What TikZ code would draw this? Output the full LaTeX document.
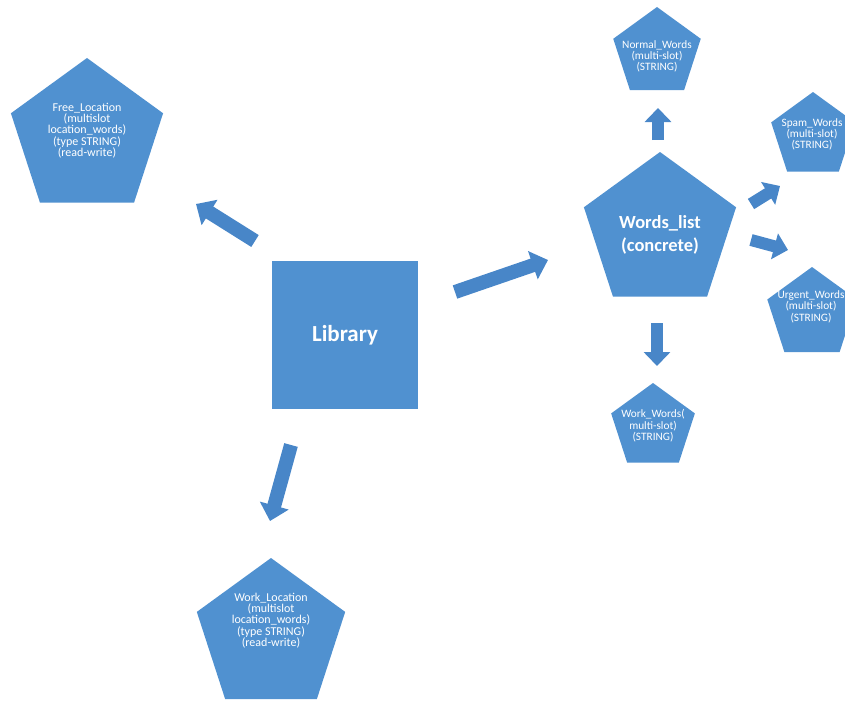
\documentclass[tikz,border=0pt]{standalone}
\usepackage{fontspec}
\setmainfont{Carlito}
\usetikzlibrary{shapes.geometric,arrows.meta}
\definecolor{shapeblue}{RGB}{80,145,208}
\definecolor{arrowblue}{RGB}{72,134,200}
% #1 x offset, #2 y offset (up), #3 lines separated by \\
\newcommand\ptext[3]{\makebox[0pt][l]{\hspace*{#1}\raisebox{#2}{\makebox[0pt]{$\vcenter{\let\\\cr\lineskiplimit=-100pt\lineskip=0pt\halign{\hfil##\hfil\cr#3\crcr}}$}}}}
\tikzset{
  pent/.style={regular polygon, regular polygon sides=5, fill=shapeblue,
    draw=none, inner sep=0pt, text=white, text height=0pt, text depth=0pt},
  bigpent/.style={pent, font=\fontsize{12}{11.3}\selectfont},
  smallpent/.style={pent, font=\fontsize{11.3}{11.2}\selectfont},
  blockarrow/.style={draw=arrowblue, line width=14pt,
    -{Triangle[width=29pt,length=16pt]}},
  smallarrow/.style={draw=arrowblue, line width=12pt,
    -{Triangle[width=26pt,length=14pt]}},
}
\begin{document}
\begin{tikzpicture}[x=1pt,y=-1pt]
\useasboundingbox (0,0) rectangle (845,701);
% nodes
\node[fill=shapeblue, minimum width=146pt, minimum height=148pt, inner sep=0pt,
      text=white, font=\bfseries\fontsize{23}{27}\selectfont] (lib) at (345,335) {Library};
\node[bigpent, minimum size=160pt] (free) at (87,138)
  {\ptext{0pt}{4.5pt}{Free\_Location\\(multislot\\location\_words)\\(type STRING)\\(read-write)}};
\node[bigpent, minimum size=156pt] (workloc) at (271,636)
  {\ptext{0pt}{12.5pt}{Work\_Location\\(multislot\\location\_words)\\(type STRING)\\(read-write)}};
\node[pent, minimum size=160pt, font=\bfseries\fontsize{18.5}{23}\selectfont] (wl) at (660,232)
  {\ptext{0pt}{-7pt}{Words\_list\\(concrete)}};
\node[smallpent, minimum size=92pt] (normal) at (657,53)
  {\ptext{0pt}{-6pt}{Normal\_Words\\(multi-slot)\\(STRING)}};
\node[smallpent, minimum size=88pt] (spam) at (813,136)
  {\ptext{-1pt}{-1pt}{Spam\_Words\\(multi-slot)\\(STRING)}};
\node[smallpent, minimum size=94pt] (urgent) at (812,314)
  {\ptext{-1pt}{4.5pt}{Urgent\_Words\\(multi-slot)\\(STRING)}};
\node[smallpent, minimum size=88pt] (workw) at (653,427)
  {\ptext{0pt}{-1.5pt}{Work\_Words(\\multi-slot)\\(STRING)}};
% arrow end points
\coordinate (a1s) at (255,241); \coordinate (a1e) at (196,204);
\coordinate (a2s) at (455,292); \coordinate (a2e) at (548,260);
\coordinate (a3s) at (291,445); \coordinate (a3e) at (270,521);
\coordinate (a4s) at (658,140); \coordinate (a4e) at (658,108);
\coordinate (a5s) at (751,204); \coordinate (a5e) at (780,186);
\coordinate (a6s) at (751,240); \coordinate (a6e) at (788,250);
\coordinate (a7s) at (657,323); \coordinate (a7e) at (657,366);
% arrows
\draw[blockarrow] (a1s) -- (a1e);
\draw[blockarrow] (a2s) -- (a2e);
\draw[blockarrow] (a3s) -- (a3e);
\draw[smallarrow] (a4s) -- (a4e);
\draw[smallarrow] (a5s) -- (a5e);
\draw[smallarrow] (a6s) -- (a6e);
\draw[smallarrow] (a7s) -- (a7e);
\end{tikzpicture}
\end{document}
